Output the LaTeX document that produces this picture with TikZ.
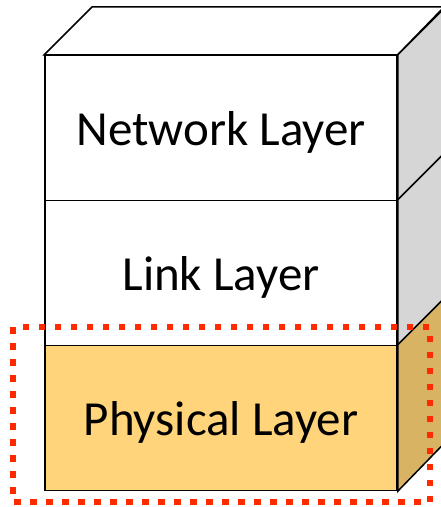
\documentclass[tikz,border=0pt]{standalone}
\usepackage{fontspec}
\setmainfont{Carlito}
\definecolor{physfront}{HTML}{FFD47A}
\definecolor{physside}{HTML}{D9B364}
\definecolor{graysid}{HTML}{D6D6D6}
\definecolor{hired}{HTML}{FF2A00}
\tikzset{
  face/.style={draw=black, line width=1.5pt, minimum width=352pt, minimum height=145pt, inner sep=0pt},
  lbl/.style={font=\fontsize{49}{58}\selectfont, anchor=base, inner sep=0pt},
  edge3d/.style={draw=black, line width=1.5pt, line join=miter},
  highlight/.style={draw=hired, line width=6.5pt, dash pattern=on 6.5pt off 9.5pt}
}
\begin{document}
\begin{tikzpicture}[x=1pt, y=-1pt]
\useasboundingbox (0,0) rectangle (441,507);
\clip (0,0) rectangle (441,507);
\node[face, fill=white] (net) at (221,128) {};
\node[face, fill=white] (link) at (221,273) {};
\node[face, fill=physfront] (phys) at (221,418) {};
\node[lbl] (netl) at (221,145) {Network Layer};
\node[lbl] (linkl) at (221,290) {Link Layer};
\node[lbl] (physl) at (221,435) {Physical Layer};
% top face
\draw[edge3d, fill=white] (net.north west) -- ++(48,-48) -- ++(352,0) -- (net.north east) -- cycle;
% side faces
\draw[edge3d, fill=graysid] (net.north east) -- ++(48,-48) -- ++(0,145) -- (net.south east) -- cycle;
\draw[edge3d, fill=graysid] (link.north east) -- ++(48,-48) -- ++(0,145) -- (link.south east) -- cycle;
\draw[edge3d, fill=physside] (phys.north east) -- ++(48,-48) -- ++(0,145) -- (phys.south east) -- cycle;
% highlight
\coordinate (hl1) at (13,327);
\coordinate (hl2) at (430,502);
\draw[highlight] (hl1) rectangle (hl2);
\end{tikzpicture}
\end{document}
